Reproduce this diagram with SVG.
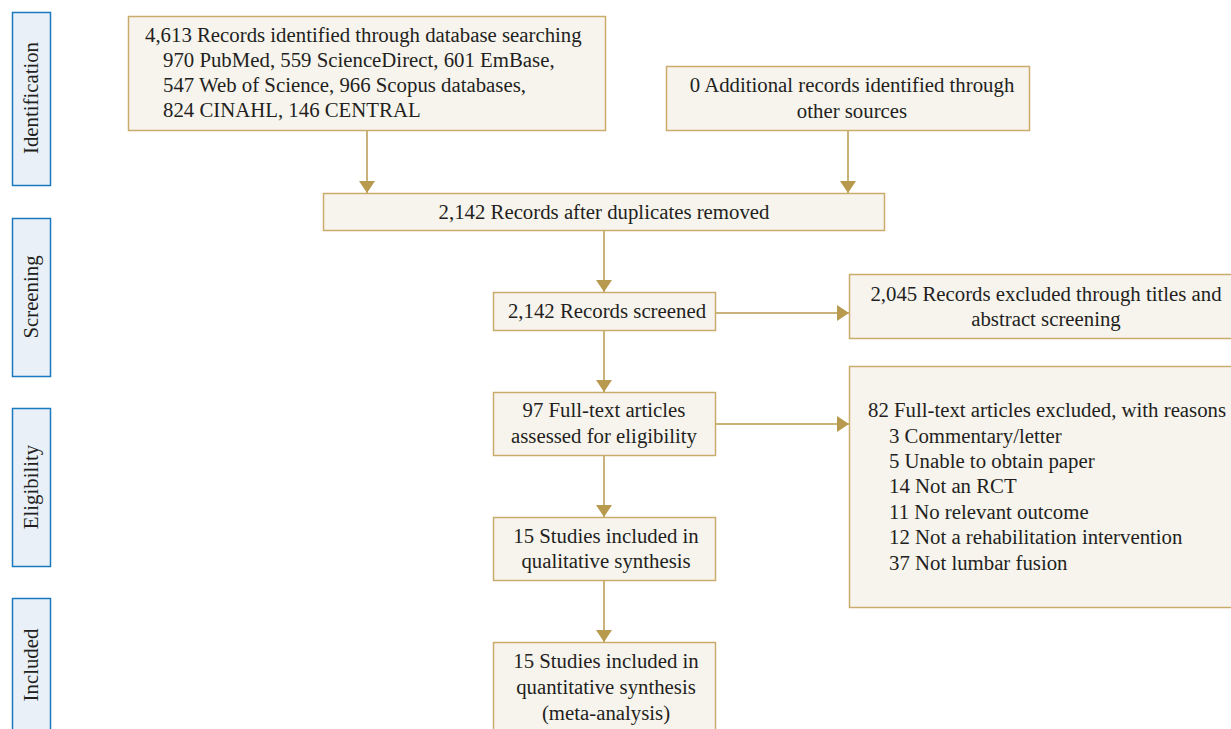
<svg xmlns="http://www.w3.org/2000/svg" width="1231" height="729" viewBox="0 0 1231 729">
<style>
.box{fill:#f7f4ee;stroke:#c9ac6c;stroke-width:1.5}
.side{fill:#e9f0f8;stroke:#1a7abf;stroke-width:1.5}
text{font-family:"Liberation Serif","Times New Roman",serif;font-size:20.8px;fill:#231f20}
.c{text-anchor:middle}
.con{stroke:#b89a4e;stroke-width:1.5;fill:none}
</style>
<defs>
<marker id="ah" viewBox="0 0 12 16" refX="12" refY="8" markerWidth="12" markerHeight="16" markerUnits="userSpaceOnUse" orient="auto">
<path d="M0,0 L12,8 L0,16 Z" fill="#b89a4e"/>
</marker>
</defs>
<rect width="1231" height="729" fill="#ffffff"/>
<g id="side-identification"><rect class="side" x="12.5" y="12.5" width="38" height="173"/><text class="c" transform="translate(38,98) rotate(-90)">Identification</text></g>
<g id="side-screening"><rect class="side" x="12.5" y="218.5" width="38" height="158"/><text class="c" transform="translate(38,297) rotate(-90)">Screening</text></g>
<g id="side-eligibility"><rect class="side" x="12.5" y="408.5" width="38" height="158"/><text class="c" transform="translate(38,487) rotate(-90)">Eligibility</text></g>
<g id="side-included"><rect class="side" x="12.5" y="598.5" width="38" height="150"/><text class="c" transform="translate(38,665) rotate(-90)">Included</text></g>

<g id="connectors">
<line class="con" x1="367" y1="130" x2="367" y2="193" marker-end="url(#ah)"/>
<line class="con" x1="848" y1="130" x2="848" y2="193" marker-end="url(#ah)"/>
<line class="con" x1="604" y1="231" x2="604" y2="292" marker-end="url(#ah)"/>
<line class="con" x1="715" y1="313" x2="849" y2="313" marker-end="url(#ah)"/>
<line class="con" x1="604" y1="331" x2="604" y2="392" marker-end="url(#ah)"/>
<line class="con" x1="715" y1="424" x2="849" y2="424" marker-end="url(#ah)"/>
<line class="con" x1="604" y1="456" x2="604" y2="517" marker-end="url(#ah)"/>
<line class="con" x1="604" y1="581" x2="604" y2="642" marker-end="url(#ah)"/>
</g>

<g id="n-database"><rect class="box" x="128.5" y="16.5" width="477" height="114"/>
<text x="145" y="42">4,613 Records identified through database searching</text>
<text x="163" y="67">970 PubMed, 559 ScienceDirect, 601 EmBase,</text>
<text x="163" y="92">547 Web of Science, 966 Scopus databases,</text>
<text x="163" y="117">824 CINAHL, 146 CENTRAL</text></g>

<g id="n-additional"><rect class="box" x="666.5" y="66.5" width="363" height="64"/>
<text class="c" x="852" y="92">0 Additional records identified through</text>
<text class="c" x="852" y="118">other sources</text></g>

<g id="n-duplicates"><rect class="box" x="323.5" y="193.5" width="561" height="37"/>
<text class="c" x="604" y="219">2,142 Records after duplicates removed</text></g>

<g id="n-screened"><rect class="box" x="493.5" y="292.5" width="222" height="38"/>
<text class="c" x="607" y="318">2,142 Records screened</text></g>

<g id="n-excluded1"><rect class="box" x="849.5" y="274.5" width="390" height="64"/>
<text class="c" x="1046" y="301">2,045 Records excluded through titles and</text>
<text class="c" x="1046" y="326">abstract screening</text></g>

<g id="n-fulltext"><rect class="box" x="493.5" y="392.5" width="222" height="63"/>
<text class="c" x="604" y="417">97 Full-text articles</text>
<text class="c" x="604" y="443">assessed for eligibility</text></g>

<g id="n-excluded2"><rect class="box" x="849.5" y="366.5" width="390" height="241"/>
<text x="868" y="417">82 Full-text articles excluded, with reasons</text>
<text x="889" y="443">3 Commentary/letter</text>
<text x="889" y="468">5 Unable to obtain paper</text>
<text x="889" y="493">14 Not an RCT</text>
<text x="889" y="519">11 No relevant outcome</text>
<text x="889" y="544">12 Not a rehabilitation intervention</text>
<text x="889" y="570">37 Not lumbar fusion</text></g>

<g id="n-qualitative"><rect class="box" x="493.5" y="517.5" width="222" height="63"/>
<text class="c" x="606" y="543">15 Studies included in</text>
<text class="c" x="606" y="568">qualitative synthesis</text></g>

<g id="n-quantitative"><rect class="box" x="493.5" y="642.5" width="222" height="100"/>
<text class="c" x="606" y="668">15 Studies included in</text>
<text class="c" x="606" y="694">quantitative synthesis</text>
<text class="c" x="606" y="720">(meta-analysis)</text></g>
</svg>
